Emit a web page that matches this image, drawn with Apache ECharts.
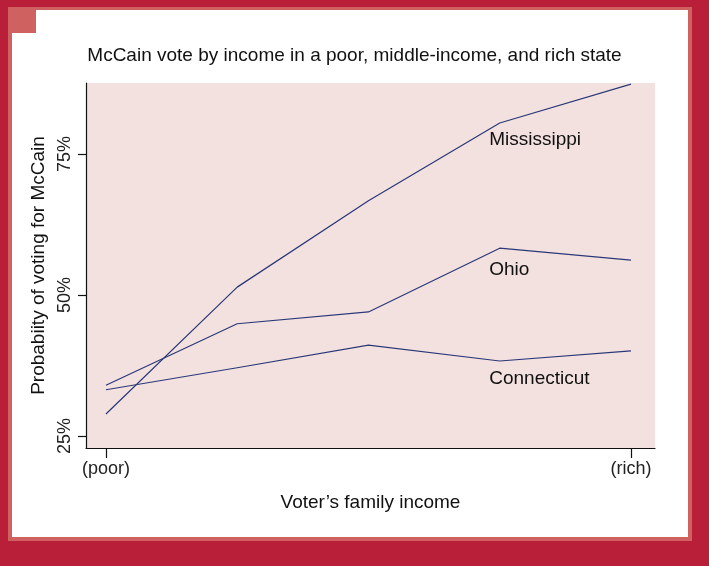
<!DOCTYPE html>
<html>
<head>
<meta charset="utf-8">
<script src="https://cdn.jsdelivr.net/npm/echarts@6/dist/echarts.min.js"></script>
<style>
  html, body { margin: 0; padding: 0; }
  body { width: 709px; height: 566px; background: #b91f38; position: relative; overflow: hidden; }
  .frame { position: absolute; left: 8px; top: 7px; width: 684px; height: 534px; background: #cf6161; }
  .paper { position: absolute; left: 12px; top: 10px; width: 676px; height: 527px; background: #fff; }
  .corner { position: absolute; left: 8px; top: 7px; width: 28px; height: 26px; background: #cf6161; }
  #chart { position: absolute; left: 0; top: 0; width: 709px; height: 566px; }
</style>
</head>
<body>
<div class="frame"></div>
<div class="paper"></div>
<div class="corner"></div>
<div id="chart"></div>
<script>
// income levels 1 (poor) .. 5 (rich)
var incomeLevels = [1, 2, 3, 4, 5];
var incomeTicks = { 1: "(poor)", 5: "(rich)" };
var mississippi = [28.9, 51.4, 66.7, 80.5, 87.4];
var ohio = [34.0, 44.9, 47.0, 58.3, 56.2];
var connecticut = [33.2, 37.1, 41.1, 38.3, 40.1];
var yTicks = [25, 50, 75];

var chart = echarts.init(document.getElementById("chart"));

var font = "'Liberation Sans', Arial, sans-serif";
var lineColor = "#2a3878";

function pairs(vals) {
  var out = [];
  for (var i = 0; i < incomeLevels.length; i++) {
    out.push([incomeLevels[i], vals[i]]);
  }
  return out;
}

function stateSeries(name, vals, labelY) {
  return {
    name: name,
    type: "line",
    data: pairs(vals),
    symbol: "none",
    silent: true,
    lineStyle: { color: lineColor, width: 1.2 },
    markPoint: {
      symbol: "circle",
      symbolSize: 0,
      silent: true,
      data: [{ coord: [3.92, labelY], value: name }],
      label: {
        show: true,
        position: "inside",
        align: "left",
        verticalAlign: "middle",
        formatter: name,
        color: "#111",
        fontFamily: font,
        fontSize: 19,
      },
    },
  };
}

var option = {
  animation: false,
  backgroundColor: "transparent",
  title: {
    text: "McCain vote by income in a poor, middle-income, and rich state",
    left: "center",
    top: 41,
    textStyle: { color: "#111", fontFamily: font, fontSize: 19, fontWeight: "normal" },
  },
  grid: {
    left: 86,
    right: 54,
    top: 83,
    bottom: 118,
    show: true,
    backgroundColor: "#f3e1df",
    borderWidth: 0,
  },
  xAxis: {
    type: "value",
    min: 0.848,
    max: 5.183,
    name: "Voter\u2019s family income",
    nameLocation: "middle",
    nameGap: 45,
    nameTextStyle: { color: "#111", fontFamily: font, fontSize: 19 },
    splitLine: { show: false },
    axisLine: { show: true, lineStyle: { color: "#111", width: 1.2 } },
    axisTick: { show: true, length: 10, customValues: [1, 5], lineStyle: { color: "#111", width: 1.2 } },
    axisLabel: {
      customValues: [1, 5],
      margin: 12,
      color: "#222",
      fontFamily: font,
      fontSize: 18,
      formatter: function (v) { return incomeTicks[v] || ""; },
    },
  },
  yAxis: {
    type: "value",
    min: 22.87,
    max: 87.6,
    name: "Probabiity of voting for McCain",
    nameLocation: "middle",
    nameGap: 37,
    nameTextStyle: { color: "#111", fontFamily: font, fontSize: 19 },
    splitLine: { show: false },
    axisLine: { show: true, lineStyle: { color: "#111", width: 1.2 } },
    axisTick: { show: true, length: 8, customValues: yTicks, lineStyle: { color: "#111", width: 1.2 } },
    axisLabel: {
      customValues: yTicks,
      rotate: 90,
      margin: 12,
      color: "#222",
      fontFamily: font,
      fontSize: 18,
      formatter: function (v) { return v + "%"; },
    },
  },
  series: [
    stateSeries("Mississippi", mississippi, 77.5),
    stateSeries("Ohio", ohio, 54.4),
    stateSeries("Connecticut", connecticut, 35.1),
  ],
};

chart.setOption(option);
</script>
</body>
</html>
